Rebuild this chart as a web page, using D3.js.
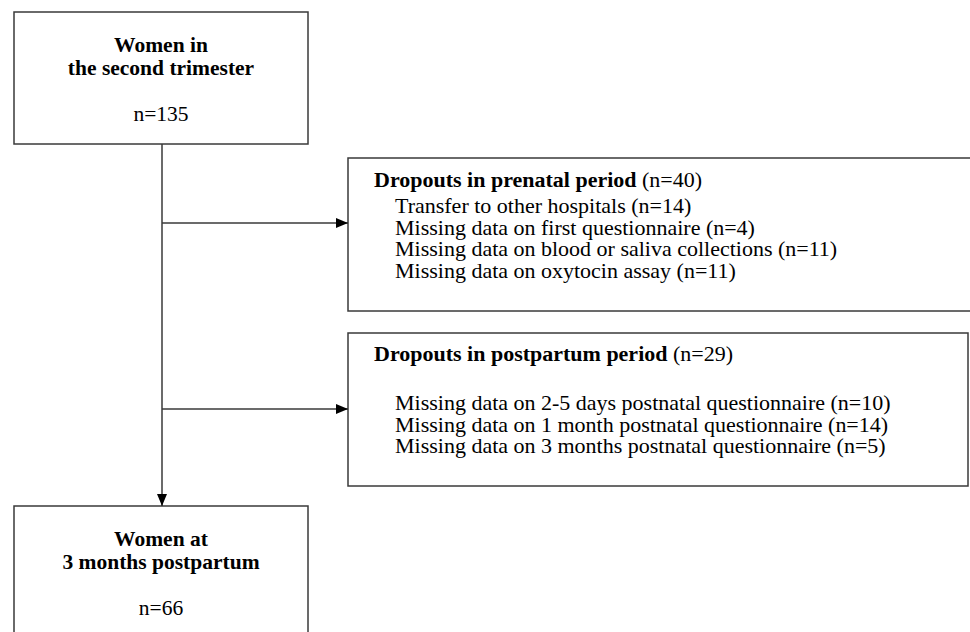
<!DOCTYPE html>
<html>
<head>
<meta charset="utf-8">
<script src="https://cdnjs.cloudflare.com/ajax/libs/d3/7.8.5/d3.min.js"></script>
<style>
  body { margin: 0; background: #fff; }
  svg { display: block; font-family: "Liberation Serif", "Times New Roman", serif; }
</style>
</head>
<body>
<svg></svg>
<script>
let stageTitles = [["Women in", "the second trimester"], ["Women at", "3 months postpartum"]]
let stageCounts = [135, 66]

let dropoutTitles = ["Dropouts in prenatal period", "Dropouts in postpartum period"]
let dropoutTotals = [40, 29]

let prenatalReasons = ["Transfer to other hospitals", "Missing data on first questionnaire", "Missing data on blood or saliva collections", "Missing data on oxytocin assay"]
let prenatalCounts = [14, 4, 11, 11]

let postpartumReasons = ["Missing data on 2-5 days postnatal questionnaire", "Missing data on 1 month postnatal questionnaire", "Missing data on 3 months postnatal questionnaire"]
let postpartumCounts = [10, 14, 5]

let width = 970
let height = 632
let lineColor = '#3a3a3a'

let svg = d3.select('svg')
  .attr('width', width)
  .attr('height', height)

svg.append('defs').append('marker')
  .attr('id', 'head')
  .attr('viewBox', '0 0 12 10')
  .attr('refX', 12)
  .attr('refY', 5)
  .attr('markerWidth', 12)
  .attr('markerHeight', 10)
  .attr('markerUnits', 'userSpaceOnUse')
  .attr('orient', 'auto')
  .append('path')
  .attr('d', 'M0,0 L12,5 L0,10 Z')
  .attr('fill', '#000')

// stage boxes (left column)
let stageBoxes = [
  { x: 14, y: 12, w: 294, h: 132 },
  { x: 14, y: 506, w: 294, h: 140 }
]
let spineX = 162

let drawStage = (i) => {
  let b = stageBoxes[i]
  let g = svg.append('g')
  g.append('rect')
    .attr('x', b.x).attr('y', b.y)
    .attr('width', b.w).attr('height', b.h)
    .attr('fill', 'none')
    .attr('stroke', lineColor)
    .attr('stroke-width', 1.5)
  g.selectAll('text.title')
    .data(stageTitles[i])
    .enter()
    .append('text')
    .attr('class', 'title')
    .attr('x', b.x + b.w / 2)
    .attr('y', (d, k) => b.y + 40 + k * 23)
    .attr('text-anchor', 'middle')
    .style('font-size', '21.5px')
    .style('font-weight', 'bold')
    .text(d => d)
  g.append('text')
    .attr('x', b.x + b.w / 2)
    .attr('y', b.y + 109)
    .attr('text-anchor', 'middle')
    .style('font-size', '21.5px')
    .text('n=' + stageCounts[i])
}

// dropout boxes (right column)
let dropBoxes = [
  { x: 348, y: 158, w: 660, h: 153, arrowY: 223, headY: 187, firstY: 213 },
  { x: 348, y: 333, w: 620, h: 153, arrowY: 409, headY: 361, firstY: 410 }
]
let reasons = [prenatalReasons, postpartumReasons]
let counts = [prenatalCounts, postpartumCounts]

// text in the side boxes is a little wider than tall in the original
let stretch = 1.1
let lineGap = 21.5

let drawDropout = (i) => {
  let b = dropBoxes[i]
  let g = svg.append('g')
  g.append('rect')
    .attr('x', b.x).attr('y', b.y)
    .attr('width', b.w).attr('height', b.h)
    .attr('fill', 'none')
    .attr('stroke', lineColor)
    .attr('stroke-width', 1.5)

  let head = g.append('text')
    .attr('transform', 'translate(' + (b.x + 26) + ',' + b.headY + ') scale(' + stretch + ',1)')
    .style('font-size', '20px')
  head.append('tspan').style('font-weight', 'bold').text(dropoutTitles[i])
  head.append('tspan').text(' (n=' + dropoutTotals[i] + ')')

  g.selectAll('text.item')
    .data(reasons[i])
    .enter()
    .append('text')
    .attr('class', 'item')
    .attr('transform', (d, k) => 'translate(' + (b.x + 47) + ',' + (b.firstY + k * lineGap) + ') scale(' + stretch + ',1)')
    .style('font-size', '20px')
    .text((d, k) => d + ' (n=' + counts[i][k] + ')')

  svg.append('line')
    .attr('x1', spineX).attr('y1', b.arrowY)
    .attr('x2', b.x).attr('y2', b.arrowY)
    .attr('stroke', lineColor)
    .attr('stroke-width', 1.5)
    .attr('marker-end', 'url(#head)')
}

drawStage(0)
drawStage(1)
drawDropout(0)
drawDropout(1)

svg.append('line')
  .attr('x1', spineX).attr('y1', stageBoxes[0].y + stageBoxes[0].h)
  .attr('x2', spineX).attr('y2', stageBoxes[1].y)
  .attr('stroke', lineColor)
  .attr('stroke-width', 1.5)
  .attr('marker-end', 'url(#head)')
</script>
</body>
</html>
